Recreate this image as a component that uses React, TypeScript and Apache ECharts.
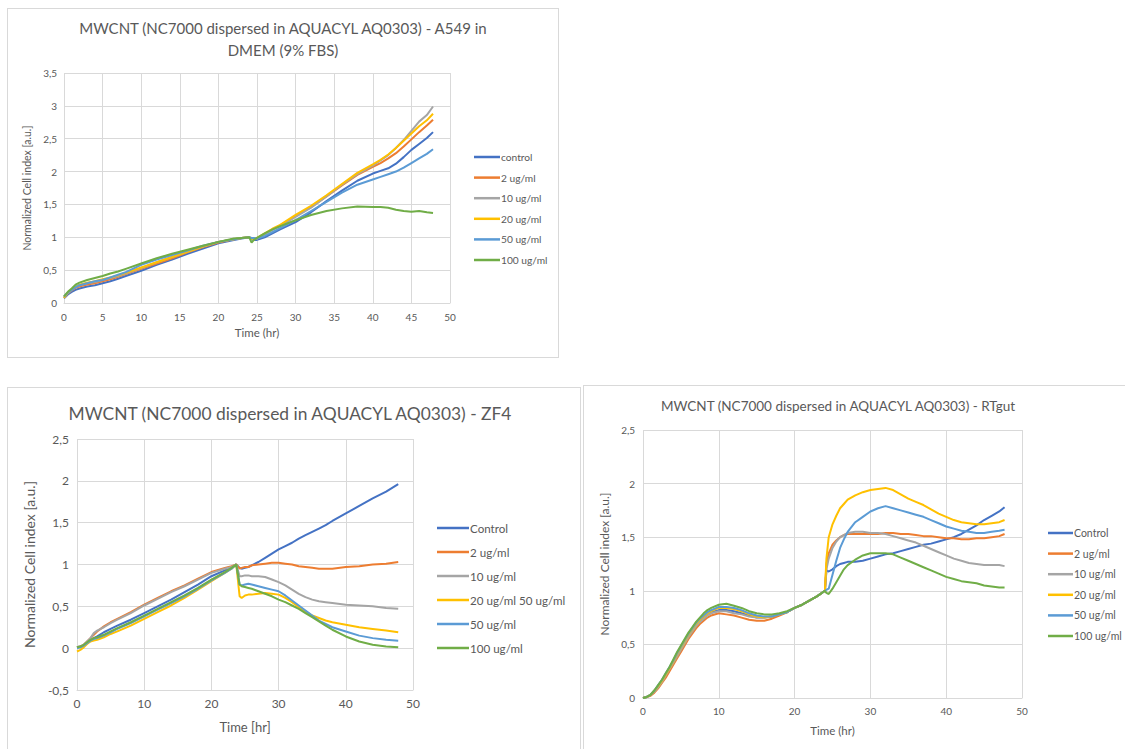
import React, { useEffect, useRef } from "react";
import * as echarts from "echarts";

const COLORS = ["#4472C4", "#ED7D31", "#A5A5A5", "#FFC000", "#5B9BD5", "#70AD47"];
const FONT = "Lato, 'Open Sans', sans-serif";
const TXT = "#595959";
const GRIDC = "#d9d9d9";

// ---------- Chart 1: A549 ----------
const A549_TITLE = "MWCNT (NC7000 dispersed in AQUACYL AQ0303) - A549 in\nDMEM (9% FBS)";
const A549_NAMES = ["control", "2 ug/ml", "10 ug/ml", "20 ug/ml", "50 ug/ml", "100 ug/ml"];
const A549_T = [0, 0.5, 1, 1.5, 2, 3, 4, 5, 6, 7, 8, 10, 12, 14, 16, 18, 20, 22, 23, 24, 24.3, 24.6, 25, 26, 27, 28, 30, 32, 34, 36, 38, 40, 41, 42, 43, 44, 45, 46, 47, 47.8];
const A549_CONTROL = [0.07, 0.13, 0.17, 0.2, 0.22, 0.25, 0.27, 0.3, 0.33, 0.37, 0.41, 0.49, 0.58, 0.66, 0.75, 0.83, 0.91, 0.96, 0.98, 1.0, 0.97, 0.96, 0.96, 1.0, 1.06, 1.12, 1.23, 1.38, 1.55, 1.71, 1.86, 1.97, 2.01, 2.05, 2.12, 2.22, 2.33, 2.42, 2.51, 2.6];
const A549_2 = [0.08, 0.15, 0.19, 0.23, 0.25, 0.28, 0.3, 0.33, 0.36, 0.4, 0.44, 0.52, 0.6, 0.68, 0.77, 0.85, 0.92, 0.97, 0.99, 1.0, 0.98, 0.97, 0.98, 1.05, 1.12, 1.18, 1.32, 1.46, 1.62, 1.79, 1.95, 2.07, 2.13, 2.2, 2.28, 2.38, 2.49, 2.6, 2.7, 2.79];
const A549_10 = [0.08, 0.15, 0.2, 0.24, 0.27, 0.3, 0.32, 0.35, 0.38, 0.41, 0.45, 0.53, 0.62, 0.7, 0.78, 0.86, 0.93, 0.97, 0.99, 1.0, 0.98, 0.97, 0.98, 1.05, 1.11, 1.17, 1.31, 1.45, 1.62, 1.8, 1.96, 2.09, 2.17, 2.25, 2.36, 2.48, 2.62, 2.76, 2.86, 2.99];
const A549_20 = [0.08, 0.16, 0.21, 0.25, 0.28, 0.31, 0.33, 0.36, 0.39, 0.42, 0.46, 0.54, 0.62, 0.7, 0.78, 0.86, 0.93, 0.97, 0.99, 1.0, 0.98, 0.97, 0.99, 1.06, 1.13, 1.19, 1.34, 1.48, 1.64, 1.81, 1.98, 2.11, 2.18, 2.26, 2.36, 2.47, 2.58, 2.69, 2.78, 2.88];
const A549_50 = [0.1, 0.16, 0.2, 0.24, 0.27, 0.3, 0.33, 0.35, 0.39, 0.43, 0.47, 0.58, 0.66, 0.73, 0.8, 0.87, 0.93, 0.97, 0.99, 1.0, 0.99, 0.99, 0.98, 1.02, 1.08, 1.14, 1.26, 1.4, 1.54, 1.68, 1.8, 1.88, 1.92, 1.96, 2.0, 2.06, 2.13, 2.2, 2.27, 2.34];
const A549_100 = [0.1, 0.17, 0.22, 0.28, 0.31, 0.35, 0.38, 0.41, 0.45, 0.48, 0.52, 0.6, 0.68, 0.75, 0.81, 0.87, 0.93, 0.98, 0.99, 1.0, 0.92, 0.96, 0.99, 1.06, 1.12, 1.17, 1.26, 1.34, 1.4, 1.44, 1.47, 1.46, 1.46, 1.45, 1.42, 1.4, 1.39, 1.4, 1.38, 1.37];

// ---------- Chart 2: ZF4 ----------
const ZF4_TITLE = "MWCNT (NC7000 dispersed in AQUACYL AQ0303) - ZF4";
const ZF4_NAMES = ["Control", "2 ug/ml", "10 ug/ml", "20 ug/ml 50 ug/ml", "50 ug/ml", "100 ug/ml"];
const ZF4_T = [0, 0.5, 1, 1.5, 2, 2.5, 3, 4, 5, 6, 8, 10, 12, 14, 16, 18, 20, 22, 23, 23.7, 24.2, 24.5, 25, 25.5, 26, 27, 28, 29, 30, 31, 32, 33, 34, 35, 36, 37, 38, 40, 42, 44, 46, 47.8];
const ZF4_CONTROL = [0.01, 0.02, 0.03, 0.06, 0.09, 0.12, 0.14, 0.19, 0.23, 0.27, 0.34, 0.42, 0.5, 0.58, 0.67, 0.76, 0.86, 0.93, 0.97, 1.0, 0.96, 0.95, 0.96, 0.97, 0.99, 1.03, 1.08, 1.13, 1.18, 1.22, 1.26, 1.31, 1.35, 1.39, 1.43, 1.47, 1.52, 1.61, 1.7, 1.79, 1.87, 1.96];
const ZF4_2 = [0.01, 0.02, 0.04, 0.08, 0.12, 0.16, 0.2, 0.26, 0.31, 0.35, 0.43, 0.52, 0.6, 0.68, 0.75, 0.83, 0.91, 0.96, 0.98, 1.0, 0.95, 0.96, 0.97, 0.97, 0.99, 1.0, 1.01, 1.02, 1.02, 1.01, 1.0, 0.98, 0.97, 0.96, 0.95, 0.95, 0.95, 0.97, 0.98, 1.0, 1.01, 1.03];
const ZF4_10 = [0.01, 0.02, 0.04, 0.08, 0.12, 0.18, 0.21, 0.25, 0.3, 0.34, 0.42, 0.51, 0.59, 0.67, 0.74, 0.82, 0.9, 0.95, 0.97, 1.0, 0.86, 0.86, 0.87, 0.87, 0.86, 0.86, 0.85, 0.82, 0.79, 0.75, 0.7, 0.65, 0.61, 0.58, 0.56, 0.55, 0.54, 0.52, 0.51, 0.5, 0.48, 0.47];
const ZF4_20 = [-0.04, -0.02, 0.01, 0.05, 0.08, 0.09, 0.1, 0.13, 0.17, 0.2, 0.27, 0.35, 0.43, 0.51, 0.6, 0.7, 0.8, 0.9, 0.95, 1.0, 0.62, 0.6, 0.63, 0.64, 0.64, 0.65, 0.66, 0.65, 0.64, 0.6, 0.55, 0.49, 0.44, 0.39, 0.36, 0.33, 0.31, 0.28, 0.25, 0.23, 0.21, 0.19];
const ZF4_50 = [0.0, 0.01, 0.03, 0.06, 0.09, 0.11, 0.12, 0.15, 0.19, 0.23, 0.3, 0.38, 0.46, 0.54, 0.62, 0.71, 0.81, 0.9, 0.95, 1.0, 0.76, 0.75, 0.76, 0.77, 0.76, 0.74, 0.72, 0.7, 0.68, 0.63, 0.57, 0.51, 0.45, 0.39, 0.33, 0.29, 0.25, 0.2, 0.15, 0.12, 0.1, 0.09];
const ZF4_100 = [0.01, 0.02, 0.04, 0.07, 0.1, 0.12, 0.13, 0.16, 0.2, 0.24, 0.31, 0.39, 0.47, 0.55, 0.63, 0.72, 0.82, 0.91, 0.96, 1.0, 0.76, 0.74, 0.73, 0.72, 0.71, 0.68, 0.65, 0.62, 0.58, 0.55, 0.51, 0.47, 0.42, 0.37, 0.32, 0.27, 0.22, 0.14, 0.08, 0.04, 0.02, 0.01];

// ---------- Chart 3: RTgut ----------
const RT_TITLE = "MWCNT (NC7000 dispersed in AQUACYL AQ0303) - RTgut";
const RT_NAMES = ["Control", "2 ug/ml", "10 ug/ml", "20 ug/ml", "50 ug/ml", "100 ug/ml"];
const RT_T = [0, 0.5, 1, 1.5, 2, 2.5, 3, 3.5, 4, 4.5, 5, 5.5, 6, 6.5, 7, 7.5, 8, 8.5, 9, 10, 11, 12, 13, 14, 15, 16, 17, 18, 19, 20, 21, 22, 23, 24, 24.2, 24.5, 25, 25.5, 26, 26.5, 27, 28, 29, 30, 31, 32, 33, 34, 35, 36, 37, 38, 39, 40, 41, 42, 43, 44, 45, 46, 47, 47.7];
const RT_CONTROL = [0, 0.01, 0.03, 0.06, 0.11, 0.16, 0.21, 0.27, 0.33, 0.4, 0.46, 0.52, 0.58, 0.63, 0.68, 0.72, 0.75, 0.78, 0.8, 0.82, 0.82, 0.81, 0.79, 0.77, 0.75, 0.75, 0.76, 0.78, 0.8, 0.84, 0.87, 0.91, 0.95, 1.0, 1.19, 1.18, 1.2, 1.23, 1.25, 1.26, 1.27, 1.27, 1.28, 1.3, 1.32, 1.34, 1.35, 1.37, 1.39, 1.41, 1.43, 1.44, 1.46, 1.48, 1.5, 1.53, 1.57, 1.61, 1.66, 1.7, 1.74, 1.78];
const RT_2 = [0, 0.01, 0.02, 0.05, 0.09, 0.14, 0.19, 0.25, 0.31, 0.37, 0.43, 0.49, 0.55, 0.6, 0.65, 0.69, 0.72, 0.75, 0.77, 0.79, 0.78, 0.77, 0.75, 0.73, 0.72, 0.72, 0.74, 0.77, 0.8, 0.84, 0.87, 0.91, 0.95, 1.0, 1.25, 1.35, 1.43, 1.47, 1.5, 1.52, 1.53, 1.53, 1.53, 1.53, 1.53, 1.54, 1.54, 1.53, 1.53, 1.52, 1.51, 1.51, 1.5, 1.49, 1.49, 1.48, 1.48, 1.49, 1.49, 1.5, 1.51, 1.53];
const RT_10 = [0, 0.01, 0.03, 0.06, 0.1, 0.15, 0.21, 0.27, 0.33, 0.39, 0.45, 0.51, 0.57, 0.62, 0.67, 0.71, 0.74, 0.77, 0.79, 0.81, 0.81, 0.79, 0.78, 0.76, 0.75, 0.75, 0.76, 0.78, 0.8, 0.84, 0.87, 0.91, 0.95, 1.0, 1.2, 1.3, 1.4, 1.46, 1.5, 1.52, 1.54, 1.55, 1.55, 1.54, 1.54, 1.53, 1.51, 1.49, 1.47, 1.45, 1.42, 1.39, 1.36, 1.33, 1.3, 1.28, 1.26, 1.25, 1.24, 1.24, 1.24, 1.23];
const RT_20 = [0, 0.01, 0.03, 0.07, 0.11, 0.16, 0.22, 0.28, 0.34, 0.41, 0.47, 0.53, 0.59, 0.64, 0.69, 0.73, 0.76, 0.79, 0.81, 0.84, 0.84, 0.83, 0.81, 0.78, 0.76, 0.75, 0.76, 0.78, 0.8, 0.84, 0.87, 0.91, 0.95, 1.0, 1.3, 1.5, 1.62, 1.7, 1.77, 1.81, 1.85, 1.89, 1.92, 1.94, 1.95, 1.96, 1.94, 1.9, 1.86, 1.83, 1.8, 1.76, 1.72, 1.69, 1.66, 1.64, 1.63, 1.62, 1.62, 1.63, 1.64, 1.66];
const RT_50 = [0, 0.01, 0.03, 0.07, 0.12, 0.17, 0.23, 0.29, 0.35, 0.42, 0.48, 0.54, 0.6, 0.65, 0.7, 0.74, 0.77, 0.8, 0.82, 0.85, 0.85, 0.84, 0.82, 0.79, 0.77, 0.76, 0.76, 0.78, 0.8, 0.84, 0.87, 0.91, 0.95, 1.0, 1.01, 1.02, 1.15, 1.28, 1.4, 1.48, 1.55, 1.64, 1.69, 1.74, 1.77, 1.79, 1.77, 1.75, 1.73, 1.71, 1.69, 1.66, 1.63, 1.6, 1.58, 1.56, 1.55, 1.54, 1.54, 1.55, 1.56, 1.57];
const RT_100 = [0, 0.01, 0.03, 0.07, 0.12, 0.17, 0.23, 0.29, 0.36, 0.43, 0.49, 0.55, 0.61, 0.66, 0.71, 0.75, 0.79, 0.82, 0.84, 0.87, 0.88, 0.86, 0.84, 0.81, 0.79, 0.78, 0.78, 0.79, 0.81, 0.84, 0.87, 0.91, 0.95, 1.0, 0.98, 0.97, 1.02, 1.08, 1.14, 1.2, 1.24, 1.29, 1.33, 1.35, 1.35, 1.35, 1.34, 1.31, 1.28, 1.25, 1.22, 1.19, 1.16, 1.13, 1.11, 1.09, 1.08, 1.07, 1.05, 1.04, 1.03, 1.03];

const comma = (v: number) => String(v).replace(".", ",");

type Cfg = {
  title: string; titleSize: number; titleX: number; titleTop: number; titleLH: number;
  names: string[]; t: number[]; values: number[][];
  grid: { left: number; top: number; width: number; height: number };
  xInterval: number; yMin: number; yMax: number;
  labelSize: number; xLabelMargin: number; yLabelMargin: number;
  xName: string; xNameGap: number; xNameSize: number;
  yName: string; yNameGap: number; yNameSize: number;
  legendLeft: number; legendTop: number; legendSize: number; legendLH: number; legendGap: number; legendW: number;
};

function buildOption(c: Cfg) {
  return {
    animation: false,
    title: {
      text: c.title,
      left: c.titleX,
      top: c.titleTop,
      textAlign: "center",
      padding: 0,
      textStyle: { fontFamily: FONT, fontSize: c.titleSize, fontWeight: "normal", color: TXT, lineHeight: c.titleLH },
    },
    legend: {
      orient: "vertical",
      left: c.legendLeft,
      top: c.legendTop,
      padding: 0,
      icon: "rect",
      itemWidth: c.legendW,
      itemHeight: 2.5,
      itemGap: c.legendGap,
      selectedMode: false,
      textStyle: { fontFamily: FONT, fontSize: c.legendSize, color: TXT, lineHeight: c.legendLH, padding: [0, 0, 0, -4] },
      data: c.names,
    },
    grid: { ...c.grid, containLabel: false },
    xAxis: {
      type: "value", min: 0, max: 50, interval: c.xInterval,
      name: c.xName, nameLocation: "middle", nameGap: c.xNameGap,
      nameTextStyle: { fontFamily: FONT, fontSize: c.xNameSize, color: TXT },
      axisLine: { show: true, onZero: false, lineStyle: { color: GRIDC } },
      axisTick: { show: false },
      axisLabel: { fontFamily: FONT, fontSize: c.labelSize, color: TXT, margin: c.xLabelMargin },
      splitLine: { show: true, lineStyle: { color: GRIDC } },
    },
    yAxis: {
      type: "value", min: c.yMin, max: c.yMax, interval: 0.5,
      name: c.yName, nameLocation: "middle", nameGap: c.yNameGap, nameRotate: 90,
      nameTextStyle: { fontFamily: FONT, fontSize: c.yNameSize, color: TXT },
      axisLine: { show: false },
      axisTick: { show: false },
      axisLabel: { fontFamily: FONT, fontSize: c.labelSize, color: TXT, margin: c.yLabelMargin, formatter: comma },
      splitLine: { show: true, lineStyle: { color: GRIDC } },
    },
    series: c.names.map((n, i) => ({
      name: n,
      type: "line",
      data: c.t.map((tt, j) => [tt, c.values[i][j]]),
      showSymbol: false,
      symbol: "none",
      lineStyle: { width: 2, color: COLORS[i] },
      itemStyle: { color: COLORS[i] },
      emphasis: { disabled: true },
    })),
  };
}

const CFG1: Cfg = {
  title: A549_TITLE, titleSize: 15, titleX: 275, titleTop: 8, titleLH: 22,
  names: A549_NAMES, t: A549_T, values: [A549_CONTROL, A549_2, A549_10, A549_20, A549_50, A549_100],
  grid: { left: 56, top: 64, width: 386, height: 230 },
  xInterval: 5, yMin: 0, yMax: 3.5, labelSize: 10, xLabelMargin: 9, yLabelMargin: 7,
  xName: "Time (hr)", xNameGap: 23, xNameSize: 11.5,
  yName: "Normalized Cell index [a.u.]", yNameGap: 29, yNameSize: 10.5,
  legendLeft: 466, legendTop: 141, legendSize: 10.2, legendLH: 14, legendGap: 6.6, legendW: 26,
};

const CFG2: Cfg = {
  title: ZF4_TITLE, titleSize: 17.4, titleX: 282, titleTop: 13, titleLH: 24,
  names: ZF4_NAMES, t: ZF4_T, values: [ZF4_CONTROL, ZF4_2, ZF4_10, ZF4_20, ZF4_50, ZF4_100],
  grid: { left: 69, top: 51, width: 336, height: 251 },
  xInterval: 10, yMin: -0.5, yMax: 2.5, labelSize: 12, xLabelMargin: 7, yLabelMargin: 8,
  xName: "Time [hr]", xNameGap: 30, xNameSize: 13,
  yName: "Normalized Cell index [a.u.]", yNameGap: 36, yNameSize: 14,
  legendLeft: 429, legendTop: 132, legendSize: 11.6, legendLH: 16, legendGap: 8, legendW: 32,
};

const CFG3: Cfg = {
  title: RT_TITLE, titleSize: 13.5, titleX: 254, titleTop: 10, titleLH: 20,
  names: RT_NAMES, t: RT_T, values: [RT_CONTROL, RT_2, RT_10, RT_20, RT_50, RT_100],
  grid: { left: 59, top: 44, width: 379, height: 268 },
  xInterval: 10, yMin: 0, yMax: 2.5, labelSize: 10, xLabelMargin: 8, yLabelMargin: 8,
  xName: "Time (hr)", xNameGap: 26, xNameSize: 11.5,
  yName: "Normalized Cell index [a.u.]", yNameGap: 30, yNameSize: 12,
  legendLeft: 464, legendTop: 140, legendSize: 10.5, legendLH: 14, legendGap: 6.6, legendW: 25,
};

function Panel({ cfg, left, top, width, height }: { cfg: Cfg; left: number; top: number; width: number; height: number }) {
  const ref = useRef<HTMLDivElement>(null);
  useEffect(() => {
    if (!ref.current) return;
    const chart = echarts.init(ref.current, null, { renderer: "svg" });
    chart.setOption(buildOption(cfg) as any);
    return () => chart.dispose();
  }, []);
  return (
    <div
      ref={ref}
      style={{ position: "absolute", left, top, width, height, border: `1px solid ${GRIDC}`, background: "#fff" }}
    />
  );
}

export default function App() {
  return (
    <div style={{ position: "fixed", left: 0, top: 0, width: 1125, height: 749, overflow: "hidden", background: "#fff" }}>
      <Panel cfg={CFG1} left={7} top={8} width={550} height={348} />
      <Panel cfg={CFG2} left={7} top={387} width={572} height={380} />
      <Panel cfg={CFG3} left={583} top={385} width={560} height={380} />
    </div>
  );
}
